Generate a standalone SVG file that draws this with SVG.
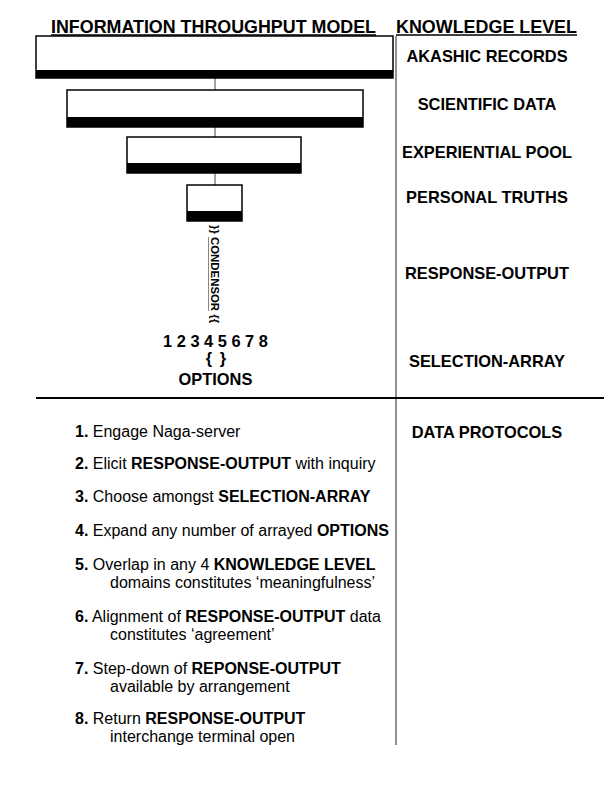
<svg xmlns="http://www.w3.org/2000/svg" width="612" height="792" viewBox="0 0 612 792">
<style>
text{font-family:"Liberation Sans",Arial,Helvetica,sans-serif;fill:#000}
.h{font-size:17.8px;font-weight:bold}
.lbl{font-size:16.4px;font-weight:bold;text-anchor:middle}
.it{font-size:16px}
.b{font-weight:bold}
.box{fill:#fff;stroke:#000;stroke-width:1.5}
.band{fill:#000}
.conn{stroke:#444;stroke-width:1;fill:none}
</style>
<rect width="612" height="792" fill="#fff"/>
<g id="headers">
<text class="h" x="51" y="33" textLength="325" lengthAdjust="spacingAndGlyphs">INFORMATION THROUGHPUT MODEL</text>
<line x1="51" y1="35" x2="376" y2="35" stroke="#000" stroke-width="1.5"/>
<text class="h" x="396" y="33" textLength="181" lengthAdjust="spacingAndGlyphs">KNOWLEDGE LEVEL</text>
<line x1="396" y1="35" x2="577" y2="35" stroke="#000" stroke-width="1.5"/>
</g>
<g id="frame">
<line x1="396" y1="36" x2="396" y2="745" stroke="#777" stroke-width="1.6"/>
<line x1="36" y1="398" x2="604" y2="398" stroke="#000" stroke-width="2"/>
</g>
<g id="connectors">
<line class="conn" x1="215" y1="78" x2="215" y2="90"/>
<line class="conn" x1="215" y1="127" x2="215" y2="137"/>
<line class="conn" x1="215" y1="173" x2="215" y2="185"/>
</g>
<g id="box1">
<rect class="box" x="36" y="36" width="357" height="42"/>
<rect class="band" x="36" y="70" width="357" height="8"/>
</g>
<g id="box2">
<rect class="box" x="67" y="90" width="296" height="37"/>
<rect class="band" x="67" y="117" width="296" height="10"/>
</g>
<g id="box3">
<rect class="box" x="127" y="137" width="174" height="36"/>
<rect class="band" x="127" y="163" width="174" height="10"/>
</g>
<g id="box4">
<rect class="box" x="187" y="185" width="55" height="36"/>
<rect class="band" x="187" y="211" width="55" height="10"/>
</g>
<g id="condensor">
<text transform="translate(210.5,225) rotate(90)" style="font-size:11.4px;font-weight:bold">}} CONDENSOR {{</text>
<line x1="208.5" y1="237" x2="208.5" y2="311" stroke="#888" stroke-width="1"/>
</g>
<g id="options">
<text class="lbl" x="215.5" y="347">1 2 3 4 5 6 7 8</text>
<text class="lbl" x="209" y="364">{</text>
<text class="lbl" x="223" y="364">}</text>
<text class="lbl" x="215.5" y="385">OPTIONS</text>
</g>
<g id="levels">
<text class="lbl" x="487" y="62">AKASHIC RECORDS</text>
<text class="lbl" x="487" y="110">SCIENTIFIC DATA</text>
<text class="lbl" x="487" y="158">EXPERIENTIAL POOL</text>
<text class="lbl" x="487" y="203">PERSONAL TRUTHS</text>
<text class="lbl" x="487" y="279">RESPONSE-OUTPUT</text>
<text class="lbl" x="487" y="367">SELECTION-ARRAY</text>
<text class="lbl" x="487" y="438">DATA PROTOCOLS</text>
</g>
<g id="protocols">
<text class="it" x="75" y="437"><tspan class="b">1.</tspan> Engage Naga-server</text>
<text class="it" x="75" y="469"><tspan class="b">2.</tspan> Elicit <tspan class="b">RESPONSE-OUTPUT</tspan> with inquiry</text>
<text class="it" x="75" y="502"><tspan class="b">3.</tspan> Choose amongst <tspan class="b">SELECTION-ARRAY</tspan></text>
<text class="it" x="75" y="536"><tspan class="b">4.</tspan> Expand any number of arrayed <tspan class="b">OPTIONS</tspan></text>
<text class="it" x="75" y="570"><tspan class="b">5.</tspan> Overlap in any 4 <tspan class="b">KNOWLEDGE LEVEL</tspan></text>
<text class="it" x="110" y="588">domains constitutes ‘meaningfulness’</text>
<text class="it" x="75" y="622"><tspan class="b">6.</tspan> Alignment of <tspan class="b">RESPONSE-OUTPUT</tspan> data</text>
<text class="it" x="110" y="640">constitutes ‘agreement’</text>
<text class="it" x="75" y="674"><tspan class="b">7.</tspan> Step-down of <tspan class="b">REPONSE-OUTPUT</tspan></text>
<text class="it" x="110" y="692">available by arrangement</text>
<text class="it" x="75" y="724"><tspan class="b">8.</tspan> Return <tspan class="b">RESPONSE-OUTPUT</tspan></text>
<text class="it" x="110" y="742">interchange terminal open</text>
</g>
</svg>
